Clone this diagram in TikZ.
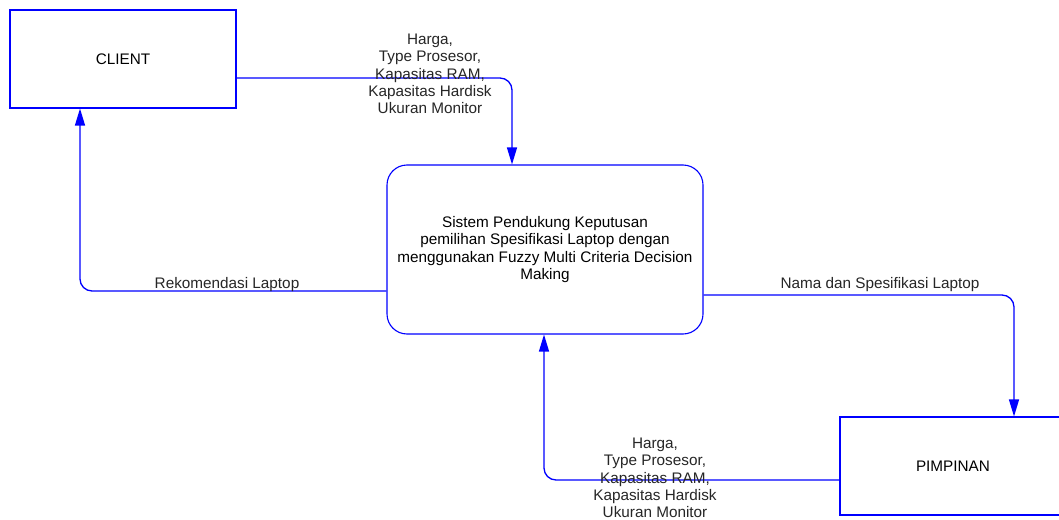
\documentclass[tikz,border=0pt]{standalone}
\usepackage{fontspec}
\setmainfont{Liberation Sans}
\usetikzlibrary{arrows.meta}
\definecolor{flowblue}{RGB}{0,0,255}
\newcommand{\dfdfont}{\fontsize{15.3}{17.3}\selectfont}
\tikzset{
  entity/.style={draw=flowblue, line width=1.1pt, fill=white, minimum width=226pt, minimum height=98pt, inner sep=0pt, font=\dfdfont},
  process/.style={draw=flowblue, line width=1.1pt, rounded corners=20pt, minimum width=316pt, minimum height=169pt, inner sep=0pt, align=center, font=\dfdfont},
  flow/.style={draw=flowblue, line width=1.3pt, rounded corners=12pt, -{Triangle[length=17pt,width=10pt]}},
  flowlabel/.style={align=center, inner sep=0pt, font=\dfdfont, text=black!85}
}
\begin{document}
\begin{tikzpicture}[x=1pt, y=-1pt]
  \useasboundingbox (0,0) rectangle (1059,519);
  \clip (0,0) rectangle (1059,519);
  \fill[white] (0,0) rectangle (1059,519);

  % external entities and the process
  \node[entity] (client) at (123,59) {CLIENT};
  \node[entity] (pimp) at (953,466) {PIMPINAN};
  \node[process] (proc) at (545,249.5) {Sistem Pendukung Keputusan\\pemilihan Spesifikasi Laptop dengan\\menggunakan Fuzzy Multi Criteria Decision\\Making};

  % data flows
  \draw[flow] (client.east |- 0,78) -| (proc.north -| 512,0);
  \draw[flow] (proc.west |- 0,291) -| (client.south -| 80,0);
  \draw[flow] (proc.east |- 0,295) -| (pimp.north -| 1014,0);
  \draw[flow] (pimp.west |- 0,480) -| (proc.south -| 544,0);

  % flow labels
  \node[flowlabel] (l1) at (430,74) {Harga,\\Type Prosesor,\\Kapasitas RAM,\\Kapasitas Hardisk\\Ukuran Monitor};
  \node[flowlabel] (l2) at (227,285) {Rekomendasi Laptop};
  \node[flowlabel] (l3) at (880,285) {Nama dan Spesifikasi Laptop};
  \node[flowlabel] (l4) at (655,478) {Harga,\\Type Prosesor,\\Kapasitas RAM,\\Kapasitas Hardisk\\Ukuran Monitor};
\end{tikzpicture}
\end{document}
